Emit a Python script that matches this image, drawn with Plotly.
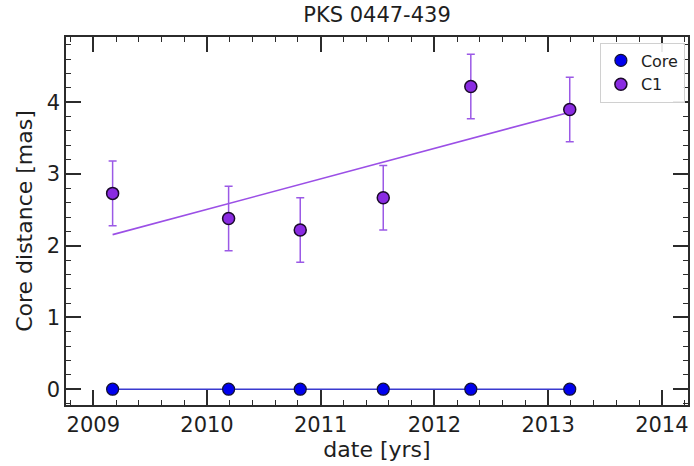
import numpy as np
import plotly.graph_objects as go

# Epochs of observation (decimal years)
epochs = [2009.17, 2010.19, 2010.82, 2011.55, 2012.32, 2013.19]

# Core position (reference point, always at zero)
core_dist = [0, 0, 0, 0, 0, 0]
core_err = [0, 0, 0, 0, 0, 0]

# Component C1 distance from the core [mas]
c1_dist = [2.73, 2.38, 2.22, 2.67, 4.22, 3.90]
c1_err = [0.45, 0.45, 0.45, 0.45, 0.45, 0.45]

x_ticks = [2009, 2010, 2011, 2012, 2013, 2014]
y_ticks = [0, 1, 2, 3, 4]

# Linear proper-motion fit for C1
slope, intercept = np.polyfit(epochs, c1_dist, 1)
fit_x = [epochs[0], epochs[-1]]
fit_y = [slope * x + intercept for x in fit_x]

FONT = "DejaVu Sans"
AX = "#2b2b2b"
TXT = "#1e1e1e"

fig = go.Figure()

fig.add_trace(go.Scatter(
    x=epochs, y=core_dist, mode="lines", showlegend=False,
    line=dict(color="#3a3acf", width=1.5), hoverinfo="skip"))
fig.add_trace(go.Scatter(
    x=fit_x, y=fit_y, mode="lines", showlegend=False,
    line=dict(color="#9b4fe6", width=1.6), hoverinfo="skip"))

fig.add_trace(go.Scatter(
    x=epochs, y=core_dist, mode="markers", name="Core",
    error_y=dict(type="data", array=core_err, color="#0000cd",
                 thickness=1.5, width=4),
    marker=dict(color="#0000ee", size=12,
                line=dict(color="#111133", width=1.2))))
fig.add_trace(go.Scatter(
    x=epochs, y=c1_dist, mode="markers", name="C1",
    error_y=dict(type="data", array=c1_err, color="#9b59e6",
                 thickness=1.5, width=4),
    marker=dict(color="#8a2be2", size=12,
                line=dict(color="#1a0a2a", width=1.5))))

axis_common = dict(
    showline=True, linecolor=AX, linewidth=1.5, mirror="ticks",
    ticks="inside", ticklen=15, tickwidth=1.5, tickcolor=AX,
    showgrid=False, zeroline=False,
    tickfont=dict(family=FONT, size=21, color=TXT),
)

fig.update_xaxes(
    **axis_common,
    range=[2008.76, 2014.23], tickvals=x_ticks,
    ticktext=[str(t) for t in x_ticks],
    minor=dict(ticks="inside", ticklen=5, tickwidth=1.2, tickcolor=AX,
               dtick=0.2, showgrid=False),
    title=dict(text="date [yrs]", font=dict(family=FONT, size=22, color=TXT),
               standoff=2),
)
fig.update_yaxes(
    **axis_common,
    range=[-0.22, 4.91], tickvals=y_ticks,
    ticktext=[str(t) for t in y_ticks],
    minor=dict(ticks="inside", ticklen=5, tickwidth=1.2, tickcolor=AX,
               dtick=0.2, showgrid=False),
    title=dict(text="Core distance [mas]", font=dict(family=FONT, size=22, color=TXT),
               standoff=8),
)

fig.update_layout(
    width=694, height=466,
    margin=dict(l=66, r=4, t=37, b=61),
    paper_bgcolor="white", plot_bgcolor="white",
    title=dict(text="PKS 0447-439", x=0.5, xref="paper", y=0.968, yanchor="middle",
               font=dict(family=FONT, size=21, color=TXT)),
    legend=dict(x=0.995, xanchor="right", y=0.985, yanchor="top",
                bgcolor="rgba(255,255,255,0.9)", bordercolor="#d0d0d0", borderwidth=1,
                font=dict(family=FONT, size=16, color=TXT),
                itemwidth=30, tracegroupgap=2),
)

fig.write_html("out.html")
